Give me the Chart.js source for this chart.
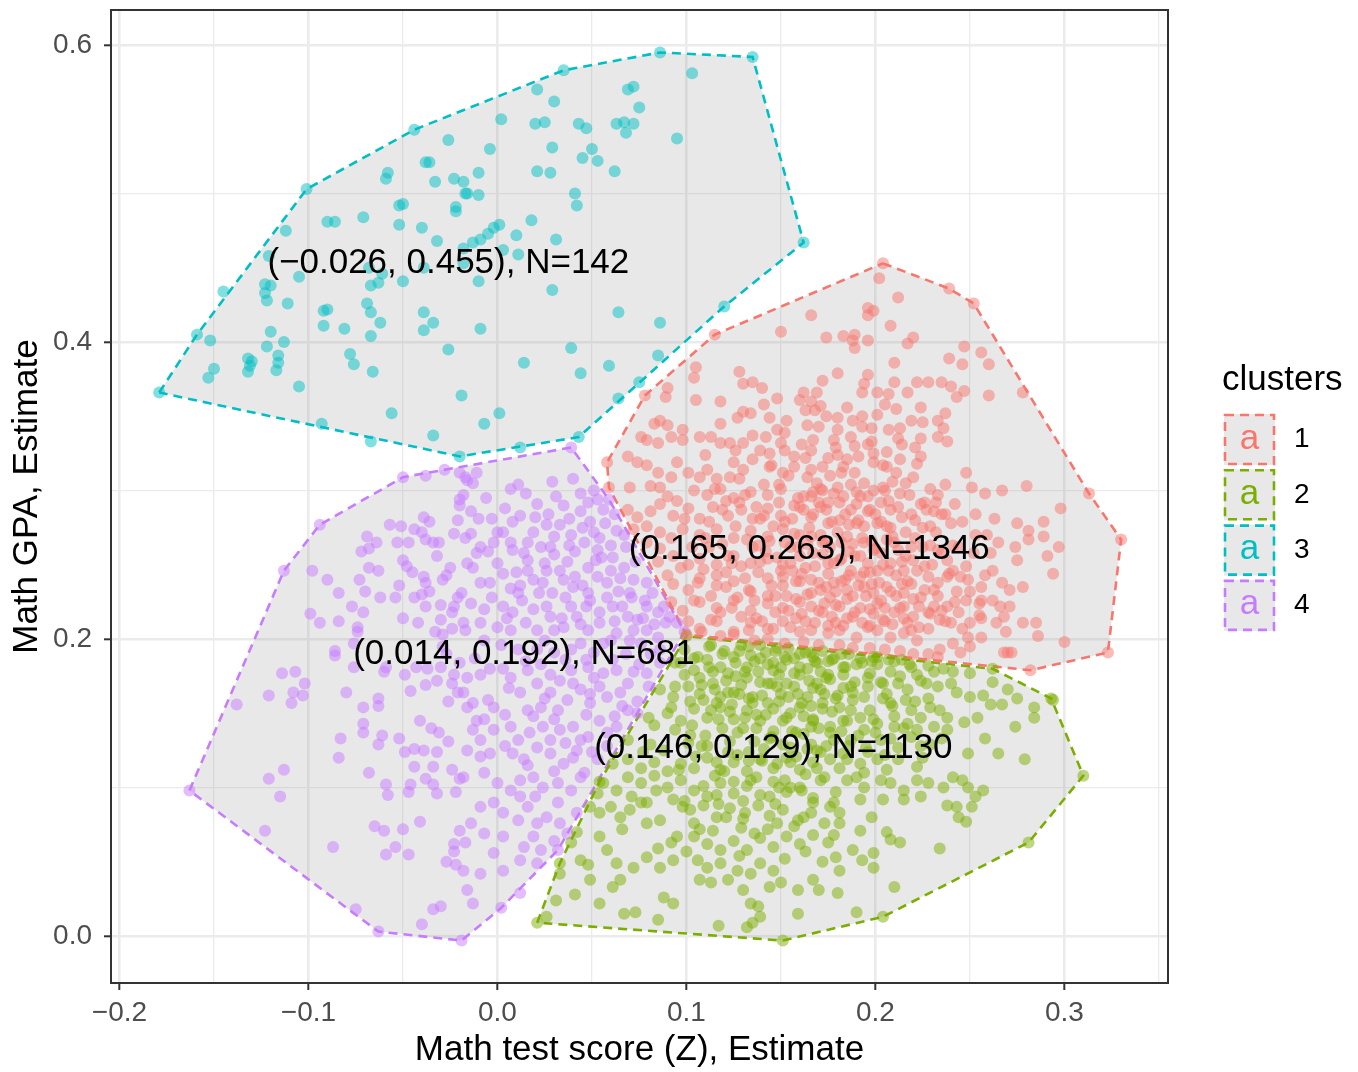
<!DOCTYPE html>
<html>
<head>
<meta charset="utf-8">
<script src="https://cdn.jsdelivr.net/npm/chart.js@4.4.0/dist/chart.umd.min.js"></script>
<style>
  html, body { margin: 0; padding: 0; background: #fff; }
  #wrap { width: 1358px; height: 1072px; }
</style>
</head>
<body>
<div id="wrap"><canvas id="chart" width="1358" height="1072"></canvas></div>
<script>
// cluster meta
const clusterNames = ['1', '2', '3', '4'];
const clusterColors = ['#F8766D', '#7CAE00', '#00BFC4', '#C77CFF'];
const centerX = [0.165, 0.146, -0.026, 0.014];
const centerY = [0.263, 0.129, 0.455, 0.192];
const clusterN = [1346, 1130, 142, 681];

// axis ticks
const xTicks = [-0.2, -0.15, -0.1, -0.05, 0, 0.05, 0.1, 0.15, 0.2, 0.25, 0.3, 0.35];
const xTickLabels = ['−0.2', '', '−0.1', '', '0.0', '', '0.1', '', '0.2', '', '0.3', ''];
const yTicks = [0, 0.1, 0.2, 0.3, 0.4, 0.5, 0.6];
const yTickLabels = ['0.0', '', '0.2', '', '0.4', '', '0.6'];

// convex hulls (x, y)
const hull1 = [[0.204,0.453],[0.239,0.436],[0.252,0.426],[0.313,0.298],[0.330,0.267],[0.323,0.191],[0.282,0.179],[0.100,0.203],[0.059,0.302],[0.058,0.319],[0.078,0.364],[0.115,0.405]];
const hull2 = [[0.021,0.009],[0.033,0.049],[0.054,0.104],[0.100,0.202],[0.262,0.180],[0.293,0.160],[0.310,0.108],[0.281,0.063],[0.204,0.013],[0.151,-0.003]];
const hull3 = [[-0.179,0.366],[-0.159,0.405],[-0.101,0.503],[-0.044,0.543],[0.035,0.583],[0.086,0.595],[0.135,0.592],[0.162,0.467],[0.120,0.424],[0.043,0.336],[-0.020,0.323]];
const hull4 = [[-0.163,0.098],[-0.113,0.246],[-0.094,0.277],[-0.050,0.309],[-0.028,0.314],[0.039,0.329],[0.059,0.294],[0.099,0.205],[0.032,0.058],[0.002,0.019],[-0.019,-0.003],[-0.063,0.003]];

// points (x, y)
const points1 = [
  [0.204,0.453],[0.239,0.436],[0.252,0.426],[0.313,0.298],[0.330,0.267],[0.323,0.191],[0.282,0.179],[0.100,0.203],[0.059,0.302],[0.058,0.319],[0.078,0.364],[0.115,0.405],
  [0.202,0.443],[0.212,0.430],[0.196,0.423],[0.199,0.421],[0.196,0.418],[0.208,0.411],[0.166,0.418],[0.174,0.403],[0.183,0.404],[0.189,0.405],[0.188,0.401],[0.196,0.401],[0.220,0.403],[0.150,0.407],[0.189,0.396],[0.217,0.399],[0.247,0.397],[0.256,0.393],[0.239,0.389],[0.246,0.385],[0.260,0.385],[0.210,0.386],[0.180,0.379],[0.196,0.378],[0.172,0.374],[0.194,0.372],[0.193,0.366],[0.210,0.373],[0.222,0.373],[0.228,0.373],[0.235,0.373],[0.240,0.370],[0.247,0.367],[0.243,0.363],[0.260,0.364],[0.278,0.366],[0.201,0.366],[0.207,0.365],[0.217,0.366],[0.166,0.360],[0.169,0.366],[0.185,0.356],[0.211,0.355],[0.224,0.356],[0.237,0.352],[0.174,0.350],[0.180,0.349],[0.193,0.350],[0.201,0.351],[0.219,0.347],[0.225,0.346],[0.233,0.347],[0.236,0.342],[0.207,0.341],[0.170,0.343],[0.180,0.341],[0.193,0.343],[0.198,0.342],[0.212,0.335],[0.214,0.331],[0.221,0.329],[0.224,0.335],[0.233,0.336],[0.238,0.333],[0.167,0.334],[0.178,0.334],[0.187,0.336],[0.196,0.331],[0.199,0.325],[0.206,0.326],[0.175,0.322],[0.180,0.324],[0.185,0.321],[0.191,0.323],[0.204,0.317],[0.213,0.321],[0.224,0.323],[0.166,0.314],[0.172,0.316],[0.183,0.316],[0.189,0.312],[0.206,0.316],[0.211,0.312],[0.220,0.309],[0.237,0.304],[0.251,0.302],[0.267,0.300],[0.280,0.303],[0.194,0.305],[0.199,0.300],[0.192,0.296],[0.209,0.306],[0.213,0.298],[0.226,0.292],[0.232,0.292],[0.231,0.286],[0.235,0.284],[0.172,0.300],[0.180,0.302],[0.183,0.296],[0.166,0.296],[0.171,0.289],[0.175,0.292],[0.187,0.287],[0.196,0.286],[0.203,0.292],[0.208,0.287],[0.219,0.284],[0.253,0.284],[0.275,0.278],[0.281,0.273],[0.289,0.279],[0.298,0.288],[0.281,0.267],[0.289,0.269],[0.265,0.265],[0.275,0.253],[0.297,0.262],[0.291,0.256],[0.294,0.244],
  [0.166,0.282],[0.175,0.278],[0.181,0.280],[0.190,0.278],[0.201,0.278],[0.208,0.275],[0.225,0.275],[0.166,0.269],[0.172,0.265],[0.185,0.269],[0.194,0.265],[0.199,0.260],[0.206,0.267],[0.212,0.260],[0.219,0.262],[0.175,0.251],[0.181,0.253],[0.187,0.246],[0.196,0.251],[0.201,0.246],[0.208,0.251],[0.215,0.246],[0.238,0.253],[0.241,0.246],[0.245,0.242],[0.228,0.242],[0.233,0.238],[0.256,0.235],[0.271,0.233],[0.278,0.235],[0.166,0.240],[0.171,0.233],[0.178,0.238],[0.185,0.233],[0.194,0.235],[0.199,0.231],[0.206,0.235],[0.215,0.231],[0.231,0.222],[0.238,0.222],[0.248,0.226],[0.256,0.226],[0.262,0.226],[0.266,0.222],[0.268,0.215],[0.278,0.211],[0.285,0.211],[0.286,0.202],[0.300,0.198],[0.166,0.222],[0.172,0.218],[0.181,0.222],[0.188,0.215],[0.197,0.220],[0.204,0.213],[0.210,0.218],[0.215,0.222],[0.220,0.215],[0.228,0.218],[0.234,0.213],[0.240,0.211],[0.250,0.211],[0.256,0.214],[0.249,0.201],[0.256,0.201],[0.269,0.205],[0.268,0.191],[0.272,0.191],[0.166,0.206],[0.175,0.204],[0.181,0.206],[0.190,0.201],[0.201,0.206],[0.208,0.201],[0.215,0.204],[0.222,0.199],[0.234,0.193],[0.241,0.197],[0.250,0.195],[0.233,0.188],[0.245,0.191],[0.270,0.191],
  [0.105,0.383],[0.104,0.376],[0.128,0.380],[0.130,0.372],[0.135,0.373],[0.140,0.369],[0.090,0.369],[0.089,0.363],[0.105,0.361],[0.118,0.360],[0.127,0.349],[0.130,0.353],[0.141,0.358],[0.144,0.349],[0.162,0.366],[0.160,0.361],[0.163,0.354],[0.168,0.354],[0.164,0.344],[0.148,0.362],[0.148,0.341],[0.152,0.339],[0.086,0.347],[0.090,0.344],[0.083,0.345],[0.076,0.336],[0.079,0.334],[0.085,0.332],[0.092,0.336],[0.098,0.341],[0.098,0.334],[0.107,0.336],[0.113,0.336],[0.118,0.332],[0.123,0.332],[0.130,0.332],[0.135,0.337],[0.139,0.327],[0.144,0.325],[0.150,0.332],[0.157,0.323],[0.166,0.327],[0.069,0.323],[0.074,0.319],[0.079,0.317],[0.085,0.312],[0.092,0.309],[0.101,0.312],[0.107,0.309],[0.111,0.314],[0.116,0.308],[0.125,0.319],[0.130,0.314],[0.135,0.321],[0.144,0.316],[0.151,0.312],[0.157,0.316],[0.164,0.309],
  [0.070,0.302],[0.081,0.303],[0.090,0.296],[0.095,0.293],[0.104,0.300],[0.111,0.297],[0.118,0.301],[0.125,0.295],[0.134,0.299],[0.143,0.297],[0.150,0.301],[0.159,0.295],[0.167,0.299],
  [0.069,0.287],[0.074,0.282],[0.081,0.286],[0.086,0.291],[0.093,0.283],[0.101,0.288],[0.107,0.281],[0.114,0.289],[0.122,0.283],[0.129,0.287],[0.135,0.281],[0.143,0.288],[0.150,0.283],[0.157,0.290],
  [0.072,0.274],[0.079,0.276],[0.086,0.272],[0.092,0.268],[0.098,0.274],[0.107,0.270],[0.116,0.274],[0.125,0.268],[0.134,0.273],[0.143,0.269],[0.151,0.274],[0.160,0.270],
  [0.079,0.265],[0.086,0.261],[0.093,0.256],[0.101,0.250],[0.107,0.254],[0.116,0.250],[0.125,0.256],[0.134,0.251],[0.143,0.254],[0.151,0.250],[0.160,0.256],[0.085,0.252],
  [0.090,0.243],[0.093,0.237],[0.101,0.233],[0.107,0.241],[0.116,0.236],[0.125,0.239],[0.134,0.232],[0.143,0.241],[0.151,0.236],[0.160,0.239],
  [0.092,0.225],[0.098,0.219],[0.107,0.225],[0.116,0.221],[0.125,0.226],[0.134,0.219],[0.143,0.224],[0.151,0.221],[0.160,0.225],
  [0.101,0.212],[0.107,0.207],[0.116,0.212],[0.125,0.205],[0.134,0.211],[0.143,0.207],[0.151,0.212],[0.160,0.205],
  [0.112,0.262],[0.121,0.245],[0.138,0.263],[0.147,0.229],[0.155,0.262],[0.129,0.215],[0.113,0.229],[0.139,0.281],[0.121,0.293],[0.156,0.246],[0.176,0.228],[0.186,0.259],[0.192,0.242],[0.203,0.226],[0.179,0.211],[0.197,0.209],[0.170,0.292],[0.191,0.280],[0.205,0.300],[0.176,0.310],[0.162,0.287],[0.182,0.239],[0.172,0.257],[0.158,0.214],[0.214,0.237],[0.220,0.253],[0.229,0.263],[0.224,0.228],[0.219,0.206],[0.243,0.232],
  [0.104,0.226],[0.109,0.247],[0.112,0.279],[0.115,0.301],[0.118,0.218],[0.119,0.264],[0.121,0.235],[0.123,0.309],[0.124,0.251],[0.127,0.228],[0.128,0.292],[0.131,0.241],[0.132,0.267],[0.133,0.206],[0.136,0.226],[0.137,0.289],[0.138,0.245],[0.140,0.212],[0.141,0.304],[0.142,0.259],[0.145,0.236],[0.146,0.276],[0.147,0.218],[0.149,0.292],[0.150,0.246],[0.152,0.265],[0.153,0.229],[0.154,0.310],[0.155,0.208],[0.156,0.281],[0.158,0.239],[0.159,0.262],[0.161,0.217],[0.162,0.296],[0.163,0.248],[0.164,0.230],[0.165,0.275],[0.167,0.258],[0.168,0.211],[0.169,0.305],[0.170,0.238],[0.171,0.270],[0.173,0.224],[0.174,0.287],[0.175,0.244],[0.176,0.262],[0.177,0.215],[0.178,0.298],[0.179,0.232],[0.180,0.272],[0.182,0.254],[0.183,0.209],[0.184,0.284],[0.185,0.227],[0.186,0.243],[0.187,0.304],[0.188,0.264],[0.189,0.218],[0.190,0.291],[0.191,0.236],[0.192,0.256],[0.193,0.211],[0.194,0.276],[0.195,0.229],[0.196,0.296],[0.197,0.245],[0.198,0.266],[0.199,0.217],[0.200,0.284],[0.202,0.238],[0.203,0.258],[0.204,0.302],[0.205,0.221],[0.206,0.276],[0.207,0.246],[0.209,0.210],[0.210,0.265],[0.211,0.229],[0.212,0.289],[0.214,0.252],[0.215,0.214],[0.216,0.272],[0.217,0.239],[0.218,0.297],[0.220,0.227],[0.221,0.280],[0.222,0.246],[0.223,0.208],[0.225,0.262],[0.226,0.233],[0.227,0.287],[0.229,0.217],[0.230,0.250],[0.232,0.272],[0.233,0.229],[0.235,0.258],[0.237,0.212],[0.238,0.242],[0.240,0.278],[0.242,0.225],[0.244,0.262],[0.246,0.207],[0.248,0.249],[0.250,0.232],[0.253,0.270],[0.255,0.216],[0.258,0.243],[0.261,0.258],[0.264,0.211],[0.267,0.238],[0.271,0.222],[0.274,0.262],
  [0.110,0.324],[0.118,0.345],[0.126,0.327],[0.134,0.352],[0.142,0.336],[0.153,0.347],[0.161,0.331],[0.171,0.357],[0.179,0.329],[0.188,0.347],[0.198,0.333],[0.205,0.358],[0.213,0.342],[0.222,0.318],[0.229,0.301],[0.242,0.291],[0.248,0.312],[0.258,0.298],[0.263,0.281],[0.095,0.319],[0.086,0.302],[0.099,0.281],[0.103,0.262],[0.097,0.248],
  [0.108,0.205],[0.125,0.203],[0.143,0.200],[0.162,0.198],[0.181,0.196],[0.197,0.194],[0.213,0.192],[0.228,0.190],
  [0.113,0.213],[0.116,0.243],[0.119,0.287],[0.122,0.256],[0.124,0.221],[0.126,0.276],[0.129,0.249],[0.131,0.297],[0.133,0.233],[0.135,0.262],[0.137,0.214],[0.139,0.252],[0.141,0.283],[0.143,0.229],[0.144,0.266],[0.146,0.207],[0.148,0.255],[0.149,0.304],[0.151,0.242],[0.152,0.279],[0.154,0.219],[0.155,0.251],[0.157,0.271],[0.158,0.227],[0.160,0.289],[0.161,0.244],[0.163,0.212],[0.164,0.264],[0.166,0.231],[0.167,0.284],[0.168,0.249],[0.170,0.219],[0.171,0.301],[0.173,0.266],[0.174,0.235],[0.175,0.209],[0.177,0.279],[0.178,0.251],[0.179,0.223],[0.181,0.292],[0.182,0.265],[0.184,0.240],[0.185,0.214],[0.186,0.277],[0.188,0.229],[0.189,0.256],[0.190,0.299],[0.192,0.221],[0.193,0.268],[0.194,0.245],[0.196,0.208],[0.197,0.287],[0.198,0.237],[0.200,0.261],[0.201,0.224],[0.203,0.279],[0.204,0.250],[0.205,0.212],[0.207,0.293],[0.208,0.232],[0.209,0.269],[0.211,0.243],[0.213,0.221],[0.214,0.282],[0.216,0.256],[0.217,0.211],[0.219,0.237],[0.221,0.268],[0.223,0.222],[0.224,0.291],[0.226,0.249],[0.228,0.207],[0.229,0.276],[0.231,0.233],[0.233,0.260],[0.235,0.219],[0.237,0.284],[0.239,0.244],[0.241,0.263],[0.244,0.218],[0.246,0.279],[0.249,0.240],[0.252,0.258],[0.255,0.224],[0.259,0.270],[0.262,0.246],[0.136,0.199],[0.152,0.197],[0.170,0.196],[0.188,0.194],[0.205,0.193],[0.220,0.190],[0.118,0.202],[0.106,0.238],[0.110,0.268],[0.128,0.308],[0.145,0.317],[0.163,0.322],[0.182,0.312],[0.199,0.319],[0.216,0.305],[0.233,0.297],[0.189,0.330],[0.152,0.327]
];

const points2 = [
  [0.021,0.009],[0.033,0.049],[0.054,0.104],[0.100,0.202],[0.262,0.180],[0.293,0.160],[0.310,0.108],[0.281,0.063],[0.204,0.013],[0.151,-0.003],
  [0.026,0.013],[0.033,0.042],[0.048,0.048],[0.054,0.022],[0.067,0.015],[0.073,0.016],[0.085,0.011],[0.088,0.026],[0.093,0.022],[0.117,0.007],[0.132,0.006],[0.135,0.009],[0.061,0.033],[0.065,0.038],[0.039,0.063],[0.042,0.070],[0.054,0.067],[0.058,0.058],[0.063,0.049],[0.072,0.046],[0.079,0.053],[0.086,0.046],[0.093,0.051],[0.106,0.051],[0.111,0.046],[0.107,0.038],[0.113,0.036],[0.122,0.038],[0.127,0.044],[0.134,0.042],[0.139,0.049],[0.146,0.044],[0.130,0.031],[0.134,0.022],[0.138,0.020],[0.144,0.033],[0.150,0.036],[0.159,0.031],[0.167,0.038],[0.139,0.013],[0.159,0.015],
  [0.054,0.083],[0.060,0.087],[0.065,0.080],[0.070,0.085],[0.076,0.090],[0.079,0.076],[0.086,0.078],[0.092,0.063],[0.095,0.067],[0.104,0.067],[0.111,0.062],[0.118,0.058],[0.125,0.064],[0.132,0.058],[0.139,0.066],[0.146,0.060],[0.153,0.067],[0.160,0.062],[0.167,0.068],
  [0.049,0.087],[0.053,0.096],[0.056,0.103],[0.063,0.098],[0.069,0.107],[0.076,0.103],[0.083,0.108],[0.090,0.100],[0.097,0.105],[0.104,0.098],[0.111,0.094],[0.118,0.103],[0.125,0.096],[0.132,0.101],[0.139,0.095],[0.146,0.104],[0.153,0.097],[0.160,0.100],[0.167,0.093],
  [0.079,0.090],[0.093,0.092],[0.102,0.085],[0.109,0.088],[0.116,0.080],[0.123,0.086],[0.130,0.079],[0.138,0.088],[0.144,0.081],[0.151,0.085],[0.159,0.078],[0.166,0.083],[0.104,0.076],[0.114,0.071],[0.129,0.073],[0.143,0.072],[0.157,0.074],
  [0.061,0.116],[0.069,0.119],[0.076,0.113],[0.083,0.117],[0.090,0.111],[0.097,0.116],[0.104,0.113],[0.111,0.120],[0.118,0.112],[0.125,0.117],[0.132,0.111],[0.139,0.119],[0.146,0.113],[0.153,0.120],[0.160,0.112],[0.167,0.117],
  [0.069,0.132],[0.081,0.129],[0.102,0.135],[0.123,0.131],[0.144,0.133],[0.166,0.129],[0.187,0.132],[0.208,0.133],[0.229,0.129],
  [0.080,0.147],[0.083,0.142],[0.090,0.150],[0.097,0.145],[0.104,0.153],[0.111,0.147],[0.118,0.154],[0.125,0.146],[0.132,0.152],[0.139,0.145],[0.146,0.153],[0.153,0.147],[0.160,0.154],[0.167,0.146],
  [0.086,0.166],[0.093,0.161],[0.101,0.168],[0.107,0.163],[0.114,0.170],[0.122,0.164],[0.129,0.169],[0.135,0.161],[0.143,0.170],[0.150,0.163],[0.157,0.168],[0.164,0.161],[0.171,0.166],
  [0.097,0.184],[0.104,0.179],[0.111,0.186],[0.118,0.181],[0.125,0.188],[0.132,0.181],[0.139,0.187],[0.146,0.179],[0.153,0.186],[0.160,0.181],[0.167,0.188],
  [0.175,0.185],[0.183,0.181],[0.192,0.187],[0.201,0.183],[0.210,0.185],[0.219,0.181],[0.228,0.182],[0.236,0.180],[0.241,0.178],[0.250,0.177],
  [0.169,0.170],[0.176,0.173],[0.187,0.168],[0.196,0.174],[0.204,0.170],[0.217,0.166],[0.224,0.172],[0.233,0.168],[0.240,0.170],[0.243,0.164],[0.250,0.161],[0.257,0.162],[0.262,0.171],[0.270,0.166],[0.275,0.160],[0.294,0.159],[0.261,0.156],[0.267,0.156],[0.284,0.154],[0.284,0.147],[0.274,0.141],[0.254,0.147],[0.247,0.144],[0.258,0.133],
  [0.172,0.157],[0.181,0.154],[0.188,0.159],[0.197,0.152],[0.208,0.157],[0.219,0.152],[0.224,0.147],[0.229,0.154],[0.234,0.152],[0.238,0.147],
  [0.167,0.145],[0.176,0.141],[0.185,0.145],[0.194,0.139],[0.201,0.143],[0.210,0.141],[0.217,0.143],[0.222,0.139],[0.231,0.141],[0.238,0.139],
  [0.249,0.123],[0.265,0.123],[0.279,0.119],[0.169,0.125],[0.176,0.119],[0.183,0.123],[0.192,0.116],[0.201,0.119],[0.212,0.119],[0.222,0.114],[0.241,0.107],
  [0.173,0.107],[0.185,0.105],[0.194,0.100],[0.203,0.105],[0.208,0.103],[0.215,0.098],[0.222,0.105],[0.228,0.103],[0.236,0.100],[0.246,0.105],[0.249,0.100],[0.253,0.094],[0.257,0.098],
  [0.167,0.090],[0.176,0.087],[0.181,0.083],[0.192,0.092],[0.204,0.092],[0.215,0.092],[0.224,0.094],[0.238,0.088],[0.243,0.087],[0.251,0.087],[0.248,0.077],[0.244,0.080],
  [0.173,0.076],[0.181,0.076],[0.192,0.071],[0.198,0.080],[0.206,0.070],[0.208,0.065],[0.213,0.063],[0.234,0.059],[0.175,0.063],[0.188,0.058],[0.179,0.053],[0.181,0.044],[0.193,0.051],[0.199,0.056],[0.199,0.046],[0.170,0.031],[0.180,0.029],[0.210,0.033],[0.190,0.016],
  [0.041,0.028],[0.031,0.024],[0.049,0.038],[0.044,0.051],
  [0.108,0.128],[0.137,0.140],[0.155,0.127],[0.116,0.157],[0.149,0.176],[0.126,0.175],[0.094,0.139],[0.171,0.178],[0.183,0.167],[0.155,0.100],[0.115,0.108],[0.088,0.125],[0.099,0.091],[0.133,0.124],[0.171,0.105],[0.178,0.132],[0.195,0.127],[0.206,0.163],[0.213,0.175],[0.162,0.136],
  [0.099,0.193],[0.099,0.176],[0.102,0.158],[0.103,0.142],[0.105,0.121],[0.106,0.188],[0.108,0.169],[0.109,0.101],[0.110,0.135],[0.112,0.195],[0.113,0.152],[0.114,0.178],[0.116,0.117],[0.117,0.089],[0.118,0.161],[0.119,0.140],[0.120,0.192],[0.121,0.172],[0.122,0.124],[0.124,0.156],[0.125,0.104],[0.126,0.184],[0.127,0.137],[0.128,0.163],[0.129,0.196],[0.130,0.091],[0.131,0.147],[0.132,0.174],[0.133,0.118],[0.134,0.189],[0.135,0.157],[0.136,0.131],[0.137,0.107],[0.138,0.178],[0.139,0.196],[0.140,0.162],[0.141,0.126],[0.142,0.149],[0.143,0.183],[0.144,0.094],[0.145,0.170],[0.146,0.138],[0.147,0.192],[0.148,0.116],[0.149,0.158],[0.150,0.181],[0.151,0.129],[0.152,0.105],[0.153,0.170],[0.154,0.194],[0.155,0.150],[0.156,0.138],[0.157,0.187],[0.158,0.121],[0.159,0.163],[0.160,0.176],[0.161,0.098],[0.162,0.148],[0.163,0.191],[0.164,0.126],[0.165,0.172],[0.166,0.155],[0.168,0.185],[0.169,0.113],[0.170,0.140],[0.172,0.192],[0.173,0.163],[0.174,0.128],[0.175,0.176],[0.177,0.151],[0.178,0.187],[0.179,0.097],[0.180,0.162],[0.182,0.138],[0.183,0.176],[0.185,0.119],[0.186,0.190],[0.187,0.152],[0.189,0.171],[0.190,0.107],[0.191,0.135],[0.193,0.184],[0.194,0.161],[0.196,0.124],[0.197,0.177],[0.199,0.146],[0.201,0.188],[0.203,0.132],[0.204,0.160],[0.206,0.112],[0.208,0.178],[0.210,0.148],[0.212,0.127],[0.214,0.186],[0.216,0.159],[0.219,0.134],[0.222,0.176],[0.225,0.120],[0.228,0.160],[0.231,0.178],[0.235,0.133],
  [0.094,0.184],[0.092,0.154],[0.094,0.168],[0.096,0.112],[0.098,0.087],[0.101,0.130],[0.107,0.072],[0.121,0.080],[0.136,0.069],[0.148,0.076],[0.163,0.057],[0.178,0.068],[0.077,0.124],[0.084,0.098],[0.071,0.094],[0.066,0.072],[0.085,0.059],[0.100,0.057],[0.118,0.049],[0.128,0.054],[0.152,0.052],[0.172,0.050],
  [0.104,0.187],[0.107,0.174],[0.109,0.159],[0.111,0.128],[0.112,0.181],[0.115,0.166],[0.117,0.146],[0.119,0.190],[0.120,0.111],[0.122,0.177],[0.123,0.151],[0.125,0.164],[0.127,0.122],[0.128,0.192],[0.130,0.140],[0.131,0.178],[0.133,0.160],[0.134,0.105],[0.136,0.185],[0.137,0.149],[0.139,0.171],[0.140,0.118],[0.142,0.191],[0.143,0.157],[0.145,0.134],[0.146,0.184],[0.148,0.168],[0.149,0.100],[0.151,0.145],[0.152,0.188],[0.154,0.161],[0.155,0.117],[0.157,0.177],[0.158,0.137],[0.160,0.190],[0.161,0.157],[0.163,0.109],[0.164,0.180],[0.166,0.141],[0.167,0.167],[0.169,0.184],[0.171,0.124],[0.172,0.153],[0.174,0.174],[0.176,0.137],[0.177,0.186],[0.179,0.160],[0.181,0.113],[0.183,0.145],[0.184,0.181],[0.186,0.128],[0.188,0.164],[0.190,0.183],[0.192,0.147],[0.194,0.110],[0.196,0.168],[0.198,0.185],[0.200,0.137],[0.203,0.171],[0.205,0.122],[0.207,0.186],[0.209,0.155],[0.212,0.170],[0.215,0.140],[0.218,0.183],[0.221,0.158],[0.224,0.128],[0.227,0.170],[0.116,0.095],[0.131,0.083],[0.147,0.089],[0.162,0.080],[0.178,0.090],[0.113,0.196],[0.133,0.195],[0.148,0.194],[0.166,0.191],[0.182,0.190],[0.199,0.188]
];

const points3 = [
  [-0.044,0.543],[-0.026,0.536],[-0.038,0.521],[-0.036,0.521],[-0.058,0.514],[-0.059,0.510],[-0.033,0.508],[-0.023,0.510],[-0.018,0.508],[-0.017,0.500],[-0.101,0.503],[-0.050,0.493],[-0.052,0.492],[-0.022,0.491],[-0.022,0.488],[-0.090,0.481],[-0.086,0.481],[-0.071,0.484],[-0.052,0.479],[-0.040,0.477],[-0.112,0.475],[-0.032,0.468],[-0.121,0.458],[-0.018,0.463],[-0.068,0.450],[-0.105,0.444],[-0.061,0.446],[-0.063,0.440],[-0.067,0.438],[-0.050,0.441],[-0.039,0.450],[-0.018,0.453],[-0.123,0.439],[-0.120,0.438],[-0.123,0.433],[-0.122,0.428],[-0.145,0.434],[-0.111,0.426],[-0.092,0.421],[-0.090,0.422],[-0.069,0.426],[-0.067,0.420],[-0.039,0.420],[-0.034,0.413],[-0.092,0.411],[-0.081,0.409],[-0.062,0.413],[-0.120,0.407],[-0.039,0.408],[-0.067,0.404],[-0.159,0.405],[-0.152,0.401],[-0.113,0.400],[-0.122,0.397],[-0.132,0.389],[-0.130,0.387],[-0.131,0.384],[-0.132,0.380],[-0.116,0.391],[-0.116,0.386],[-0.117,0.381],[-0.150,0.382],[-0.153,0.376],[-0.078,0.392],[-0.076,0.385],[-0.066,0.380],[-0.105,0.370],[-0.026,0.395],[-0.019,0.364],[-0.056,0.352],[-0.093,0.345],[-0.067,0.333],[-0.034,0.337],[-0.020,0.323],[-0.179,0.366],
  [0.035,0.583],[0.086,0.595],[0.135,0.592],[0.103,0.581],[0.021,0.570],[0.030,0.562],[0.069,0.570],[0.072,0.572],[0.075,0.558],[0.002,0.550],[0.020,0.547],[0.025,0.548],[0.043,0.547],[0.047,0.544],[0.063,0.547],[0.067,0.548],[0.072,0.547],[0.068,0.541],[0.095,0.537],[-0.004,0.530],[0.029,0.531],[0.050,0.530],[0.045,0.524],[0.053,0.522],[0.021,0.515],[0.028,0.514],[0.062,0.515],[-0.010,0.514],[-0.016,0.500],[-0.010,0.499],[0.041,0.500],[0.042,0.492],[0.018,0.482],[0.001,0.479],[-0.002,0.477],[-0.005,0.473],[0.010,0.472],[0.031,0.469],[-0.009,0.469],[-0.013,0.467],[0.003,0.462],[0.011,0.459],[-0.010,0.441],[0.029,0.435],[0.064,0.420],[0.086,0.413],[0.120,0.424],[0.162,0.467],[-0.009,0.409],
  [0.039,0.396],[0.014,0.386],[0.059,0.384],[0.044,0.379],[0.085,0.391],[0.001,0.352],[-0.007,0.345],[0.064,0.362],[0.075,0.373],[0.012,0.329],[0.043,0.336]
];

const points4 = [
  [-0.163,0.098],[-0.113,0.246],[-0.094,0.277],[-0.050,0.309],[-0.028,0.314],[0.039,0.329],[0.059,0.294],[0.099,0.205],[0.032,0.058],[0.002,0.019],[-0.019,-0.003],[-0.063,0.003],
  [-0.038,0.310],[-0.017,0.309],[-0.018,0.297],[-0.020,0.290],[-0.021,0.280],[-0.039,0.282],[-0.036,0.279],[-0.057,0.277],[-0.051,0.276],[-0.044,0.274],[-0.040,0.272],[-0.023,0.271],[-0.017,0.268],[-0.069,0.269],[-0.064,0.265],[-0.068,0.261],[-0.072,0.259],[-0.053,0.265],[-0.047,0.265],[-0.038,0.267],[-0.034,0.265],[-0.031,0.265],[-0.050,0.253],[-0.048,0.249],[-0.045,0.245],[-0.032,0.256],[-0.025,0.248],[-0.027,0.243],[-0.029,0.240],[-0.068,0.248],[-0.063,0.246],[-0.098,0.246],[-0.090,0.240],[-0.073,0.240],[-0.039,0.242],[-0.038,0.238],[-0.052,0.236],[-0.084,0.231],[-0.070,0.232],[-0.062,0.228],[-0.054,0.228],[-0.044,0.228],[-0.036,0.232],[-0.019,0.231],[-0.021,0.228],[-0.077,0.222],[-0.038,0.222],[-0.030,0.223],[-0.023,0.222],[-0.024,0.218],[-0.099,0.217],[-0.094,0.211],[-0.084,0.212],[-0.071,0.218],[-0.074,0.208],[-0.074,0.205],[-0.050,0.214],[-0.042,0.211],[-0.030,0.213],[-0.033,0.205],[-0.029,0.203],[-0.018,0.211],[-0.017,0.206],[-0.024,0.207],[-0.086,0.192],[-0.076,0.197],
  [-0.114,0.177],[-0.107,0.178],[-0.102,0.170],[-0.108,0.164],[-0.103,0.162],[-0.109,0.157],[-0.121,0.162],[-0.138,0.156],[-0.080,0.164],[-0.086,0.189],[-0.076,0.181],[-0.059,0.181],[-0.060,0.178],[-0.049,0.176],[-0.043,0.181],[-0.037,0.180],[-0.030,0.181],[-0.038,0.169],[-0.046,0.165],[-0.032,0.172],[-0.023,0.176],[-0.024,0.170],[-0.021,0.164],[-0.026,0.158],[-0.016,0.154],[-0.071,0.154],[-0.063,0.155],[-0.063,0.160],[-0.041,0.145],[-0.035,0.140],[-0.031,0.137],[-0.071,0.143],[-0.071,0.137],[-0.061,0.135],[-0.063,0.129],[-0.052,0.133],[-0.083,0.133],[-0.084,0.120],[-0.049,0.124],[-0.044,0.126],[-0.039,0.125],[-0.032,0.124],[-0.044,0.114],[-0.034,0.114],[-0.024,0.112],[-0.020,0.106],[-0.068,0.110],[-0.038,0.106],[-0.059,0.102],[-0.058,0.095],[-0.046,0.102],[-0.047,0.097],[-0.034,0.102],[-0.032,0.096],[-0.022,0.097],[-0.121,0.106],[-0.113,0.112],[-0.115,0.094],[-0.123,0.071],[-0.065,0.074],[-0.060,0.071],[-0.050,0.072],[-0.041,0.077],[-0.020,0.071],[-0.087,0.060],[-0.054,0.060],[-0.059,0.055],[-0.047,0.055],[-0.023,0.062],[-0.023,0.057],[-0.017,0.063],[-0.027,0.050],[-0.022,0.048],[-0.075,0.018],[-0.034,0.018],[-0.030,0.020],[-0.040,0.008],
  [-0.020,0.312],[-0.016,0.307],[-0.011,0.312],[-0.013,0.305],[0.011,0.304],[0.015,0.298],[0.029,0.306],[0.040,0.308],[0.051,0.300],[0.053,0.294],[0.056,0.287],[-0.020,0.294],[-0.014,0.286],[-0.010,0.281],[-0.003,0.281],[0.008,0.279],[0.026,0.277],[0.033,0.277],[0.038,0.281],[0.044,0.286],[0.048,0.292],[0.057,0.278],[0.063,0.273],[-0.014,0.271],[0.000,0.272],[0.019,0.272],[0.016,0.265],[0.030,0.269],[0.039,0.270],[0.051,0.272],[0.054,0.268],[-0.009,0.262],[-0.005,0.259],[0.007,0.265],[0.008,0.260],[0.028,0.262],[0.030,0.257],[0.041,0.259],[0.053,0.260],[0.052,0.253],[0.061,0.255],[-0.016,0.251],[-0.013,0.248],[0.000,0.251],[0.003,0.244],[0.016,0.253],[0.016,0.246],[0.019,0.240],[0.026,0.246],[0.033,0.246],[0.041,0.242],[0.040,0.235],[0.048,0.248],[0.053,0.242],[0.060,0.246],[0.067,0.248],[0.072,0.240],[0.070,0.231],[0.079,0.238],[-0.009,0.238],[-0.004,0.238],[0.007,0.234],[0.011,0.231],[0.022,0.231],[0.029,0.231],[0.048,0.231],[0.049,0.226],[0.058,0.228],[0.061,0.222],[0.079,0.222],[0.085,0.218],[-0.014,0.224],[-0.007,0.220],[0.003,0.222],[0.008,0.218],[0.019,0.220],[0.026,0.222],[0.039,0.222],[0.042,0.215],[0.054,0.218],[0.069,0.215],[0.074,0.213],[0.089,0.211],[0.095,0.211],[-0.009,0.211],[0.000,0.208],[0.007,0.206],[0.015,0.211],[0.021,0.206],[0.030,0.206],[0.035,0.208],[0.048,0.206],[0.054,0.211],[0.063,0.204],[0.072,0.206],[0.079,0.206],[0.085,0.201],[0.021,0.193],[0.030,0.191],[0.039,0.193],[0.051,0.191],[0.086,0.193],
  [-0.020,0.184],[-0.016,0.174],[-0.009,0.176],[0.003,0.180],[0.007,0.174],[0.016,0.179],[0.023,0.183],[0.028,0.176],[0.033,0.172],[0.039,0.179],[0.048,0.181],[0.051,0.174],[0.056,0.177],[0.063,0.179],[0.072,0.178],[0.079,0.177],[0.086,0.184],[-0.018,0.164],[-0.013,0.157],[-0.005,0.159],[-0.002,0.154],[0.012,0.164],[0.016,0.152],[0.023,0.154],[0.028,0.164],[0.032,0.152],[0.037,0.159],[0.044,0.166],[0.049,0.157],[0.058,0.161],[0.065,0.164],[0.069,0.152],[0.074,0.150],[-0.013,0.139],[-0.009,0.132],[-0.002,0.139],[0.007,0.141],[0.011,0.132],[0.017,0.137],[0.024,0.141],[0.028,0.132],[0.033,0.139],[0.040,0.141],[0.048,0.134],[0.054,0.145],[0.058,0.137],[0.063,0.141],[-0.016,0.125],[-0.009,0.121],[-0.004,0.123],[0.008,0.123],[0.014,0.119],[0.021,0.127],[0.028,0.123],[0.035,0.116],[0.042,0.125],[0.046,0.110],[0.053,0.119],[-0.018,0.107],[-0.007,0.110],[0.000,0.103],[0.007,0.098],[0.012,0.105],[0.019,0.107],[0.024,0.100],[0.032,0.103],[0.039,0.098],[0.044,0.107],[-0.009,0.087],[-0.002,0.090],[0.003,0.083],[0.012,0.094],[0.016,0.087],[0.021,0.076],[0.026,0.080],[0.032,0.090],[0.033,0.076],[0.037,0.069],[0.042,0.083],[-0.014,0.076],[-0.007,0.069],[0.003,0.067],[0.011,0.078],[0.014,0.060],[0.019,0.067],[-0.002,0.056],[0.003,0.044],[0.012,0.051],[0.023,0.058],[0.030,0.064],[-0.018,0.044],[-0.009,0.042],[-0.016,0.031],[-0.013,0.022],[0.012,0.029],[0.021,0.049],
  [0.004,0.288],[0.012,0.283],[0.021,0.291],[0.035,0.290],[0.044,0.298],[0.062,0.284],[0.068,0.262],[0.073,0.252],[0.078,0.226],[0.082,0.231],[0.088,0.222],[0.091,0.215],[0.083,0.210],[0.076,0.197],[0.068,0.190],[0.060,0.199],[0.044,0.197],[0.036,0.186],[0.025,0.199],[0.011,0.193],[0.002,0.196],[-0.007,0.199],[-0.012,0.187],[0.005,0.214],[0.013,0.226],[0.036,0.228],[0.045,0.236],[0.058,0.238],[0.064,0.232],[0.066,0.222],[0.047,0.222],[0.034,0.214],[0.024,0.238],[0.010,0.245],[-0.002,0.265],[0.023,0.262],[0.037,0.252],[0.046,0.265],[0.060,0.263],[0.067,0.270],[0.045,0.275],[0.020,0.282],[-0.006,0.295],[0.007,0.301],[0.031,0.296],[0.061,0.186],[0.075,0.183],[0.069,0.170],[0.054,0.168],[0.040,0.170],[0.021,0.170],[0.006,0.167],[0.080,0.168],[0.074,0.158],[0.062,0.148],[0.047,0.149],[0.030,0.146],[0.019,0.148],[0.004,0.149],[0.044,0.132],[0.050,0.124],[0.036,0.130],[0.016,0.115],[0.030,0.111],[0.004,0.128],[0.058,0.128],[-0.004,0.180],[-0.011,0.145],[-0.026,0.131],[-0.027,0.190],
  [0.003,0.272],[0.014,0.258],[0.025,0.251],[0.038,0.263],[0.049,0.279],[0.055,0.255],[0.065,0.241],[0.071,0.228],[0.077,0.214],[0.062,0.212],[0.044,0.210],[0.028,0.215],[0.012,0.236],[0.035,0.240],[0.056,0.197],[0.070,0.199],[0.081,0.190],[0.047,0.186],[0.015,0.185],[-0.003,0.228],[-0.011,0.258],[0.027,0.284],[0.049,0.163],[0.066,0.155],[0.025,0.160],[0.040,0.120],[0.020,0.094],[-0.007,0.146],[-0.029,0.195],[-0.040,0.230]
];

const pointSets = [points1, points2, points3, points4];
const hullSets = [hull1, hull2, hull3, hull4];

const FONT = '"Liberation Sans", Arial, Helvetica, sans-serif';
const hullFill = 'rgba(140,140,140,0.2)';
const pointAlpha = 0.5;

function rgba(hex, a) {
  const n = parseInt(hex.slice(1), 16);
  return `rgba(${(n >> 16) & 255},${(n >> 8) & 255},${n & 255},${a})`;
}
const toXY = pts => pts.map(p => ({ x: p[0], y: p[1] }));
const fmt = v => v.toFixed(3).replace('-', '−');

const datasets = [];
pointSets.forEach((pts, i) => {
  datasets.push({
    label: clusterNames[i],
    data: toXY(pts),
    pointRadius: 6,
    pointHoverRadius: 6,
    pointBorderWidth: 0,
    pointBackgroundColor: rgba(clusterColors[i], pointAlpha),
    pointBorderColor: 'rgba(0,0,0,0)',
    order: 0
  });
});
hullSets.forEach((h, i) => {
  datasets.push({
    label: 'hull ' + clusterNames[i],
    data: toXY(h.concat([h[0]])),
    showLine: true,
    fill: 'shape',
    backgroundColor: hullFill,
    borderColor: clusterColors[i],
    borderWidth: 2.6,
    borderDash: [9, 6],
    pointRadius: 0,
    pointHoverRadius: 0,
    tension: 0,
    order: 1
  });
});

const isMajorX = i => xTickLabels[i] !== '';
const isMajorY = i => yTickLabels[i] !== '';

const panelPlugin = {
  id: 'panel',
  afterDatasetsDraw(chart) {
    const { ctx, chartArea: a, scales } = chart;
    ctx.save();
    // cluster centre labels
    ctx.fillStyle = '#000';
    ctx.font = `35px ${FONT}`;
    ctx.textAlign = 'center';
    ctx.textBaseline = 'alphabetic';
    centerX.forEach((cx, i) => {
      const px = scales.x.getPixelForValue(cx);
      const py = scales.y.getPixelForValue(centerY[i]);
      ctx.fillText(`(${fmt(cx)}, ${fmt(centerY[i])}), N=${clusterN[i]}`, px, py + 13);
    });
    // panel border
    ctx.strokeStyle = '#333333';
    ctx.lineWidth = 2;
    ctx.strokeRect(a.left, a.top, a.right - a.left, a.bottom - a.top);
    ctx.restore();
  },
  afterDraw(chart) {
    const ctx = chart.ctx;
    ctx.save();
    ctx.fillStyle = '#000';
    ctx.font = `35px ${FONT}`;
    ctx.textAlign = 'left';
    ctx.textBaseline = 'middle';
    ctx.fillText('clusters', 1222, 380);
    clusterNames.forEach((name, i) => {
      const x = 1224, y = 414 + i * 55.3, s = 51;
      ctx.fillStyle = hullFill;
      ctx.fillRect(x, y, s, s);
      ctx.setLineDash([9, 6]);
      ctx.lineWidth = 2.6;
      ctx.strokeStyle = clusterColors[i];
      ctx.strokeRect(x + 1, y + 1, s - 2, s - 2);
      ctx.setLineDash([]);
      ctx.fillStyle = clusterColors[i];
      ctx.font = `35px ${FONT}`;
      ctx.textAlign = 'center';
      ctx.textBaseline = 'alphabetic';
      ctx.fillText('a', x + s / 2, y + s / 2 + 9);
      ctx.fillStyle = '#000';
      ctx.font = `28px ${FONT}`;
      ctx.textAlign = 'left';
      ctx.textBaseline = 'middle';
      ctx.fillText(name, 1294, y + s / 2);
    });
    ctx.restore();
  }
};

Chart.defaults.font.family = FONT;

new Chart(document.getElementById('chart'), {
  type: 'scatter',
  data: { datasets },
  options: {
    responsive: false,
    devicePixelRatio: 1,
    animation: false,
    layout: { padding: { left: 0, top: 10, right: 190, bottom: 0 } },
    plugins: { legend: { display: false }, tooltip: { enabled: false } },
    scales: {
      x: {
        type: 'linear',
        min: -0.2045,
        max: 0.3548,
        afterBuildTicks: s => { s.ticks = xTicks.map(v => ({ value: v })); },
        afterFit: s => { s.height = 89; s.paddingLeft = 0; s.paddingRight = 0; },
        border: { display: false },
        grid: {
          color: '#EBEBEB',
          lineWidth: c => isMajorX(c.index) ? 2.6 : 1.3,
          tickLength: 7,
          tickWidth: 2,
          tickColor: c => isMajorX(c.index) ? '#333333' : 'rgba(0,0,0,0)'
        },
        ticks: {
          autoSkip: false,
          maxRotation: 0,
          padding: 6,
          color: '#4D4D4D',
          font: { size: 28 },
          callback: (v, i) => xTickLabels[i]
        },
        title: {
          display: true,
          text: 'Math test score (Z), Estimate',
          color: '#000',
          font: { size: 35 },
          padding: { top: 0, bottom: 1 }
        }
      },
      y: {
        type: 'linear',
        min: -0.0316,
        max: 0.6236,
        afterBuildTicks: s => { s.ticks = yTicks.map(v => ({ value: v })); },
        afterFit: s => { s.width = 111; s.paddingTop = 0; s.paddingBottom = 0; },
        border: { display: false },
        grid: {
          color: '#EBEBEB',
          lineWidth: c => isMajorY(c.index) ? 2.6 : 1.3,
          tickLength: 7,
          tickWidth: 2,
          tickColor: c => isMajorY(c.index) ? '#333333' : 'rgba(0,0,0,0)'
        },
        ticks: {
          autoSkip: false,
          padding: 12,
          color: '#4D4D4D',
          font: { size: 28 },
          callback: (v, i) => yTickLabels[i]
        },
        title: {
          display: true,
          text: 'Math GPA, Estimate',
          color: '#000',
          font: { size: 35 },
          padding: { top: 6, bottom: 0 }
        }
      }
    }
  },
  plugins: [panelPlugin]
});
</script>
</body>
</html>
